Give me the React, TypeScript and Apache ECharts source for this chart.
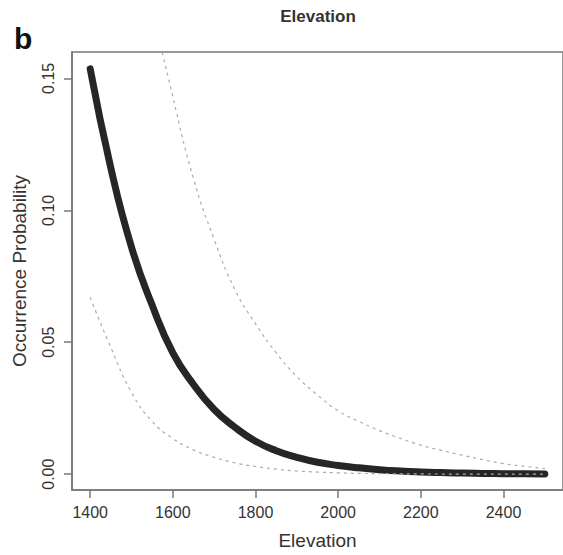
import React, { useEffect, useRef } from "react";
import * as echarts from "echarts";

const ELEVATION = [1400, 1450, 1500, 1550, 1600, 1650, 1700, 1750, 1800, 1850, 1900, 1950, 2000, 2050, 2100, 2150, 2200, 2250, 2300, 2350, 2400, 2450, 2500];
// Fitted occurrence probability (thick curve)
const FITTED = [0.1536, 0.116, 0.086, 0.064, 0.046, 0.034, 0.0245, 0.0178, 0.0125, 0.0089, 0.0064, 0.0045, 0.0033, 0.0024, 0.0017, 0.0012, 0.00085, 0.0006, 0.0004, 0.0003, 0.0002, 0.00015, 0.0001];
// Upper confidence band (dashed)
const UPPER = [0.33, 0.27, 0.22, 0.178, 0.143, 0.112, 0.089, 0.07, 0.057, 0.046, 0.037, 0.03, 0.024, 0.02, 0.0165, 0.0136, 0.011, 0.009, 0.0072, 0.0055, 0.004, 0.003, 0.0021];
// Lower confidence band (dashed)
const LOWER = [0.067, 0.048, 0.031, 0.02, 0.0135, 0.0092, 0.0064, 0.0043, 0.0029, 0.0019, 0.0012, 0.0008, 0.0005, 0.0003, 0.0002, 0.00012, 0.00008, 0.00005, 0.00003, 0.00002, 0.000012, 0.000008, 0.000005];

const X_TICKS = [1400, 1600, 1800, 2000, 2200, 2400];
const Y_TICKS = [0, 0.05, 0.1, 0.15];

const FONT = '"Liberation Sans", Arial, Helvetica, sans-serif';

const pairs = (ys: number[]) => ELEVATION.map((x, i) => [x, ys[i]]);

export default function App() {
  const ref = useRef<HTMLDivElement>(null);
  useEffect(() => {
    const chart = echarts.init(ref.current!, null, { renderer: "svg" });
    const axisColor = "#777777";
    const textColor = "#333333";
    chart.setOption({
      animation: false,
      backgroundColor: "#ffffff",
      textStyle: { fontFamily: FONT },
      grid: {
        left: 72,
        top: 52,
        right: -4,
        bottom: 60,
        show: true,
        borderColor: axisColor,
        borderWidth: 1.5,
        backgroundColor: "transparent",
      },
      xAxis: {
        type: "value",
        min: 1356,
        max: 2544,
        name: "Elevation",
        nameLocation: "middle",
        nameGap: 41,
        nameTextStyle: { fontSize: 19, color: textColor, fontFamily: FONT },
        axisLine: { show: true, onZero: false, lineStyle: { color: axisColor, width: 1.5 } },
        axisTick: { show: true, length: 8, customValues: X_TICKS, lineStyle: { color: axisColor, width: 1.5 } },
        axisLabel: {
          customValues: X_TICKS,
          margin: 14,
          fontSize: 16,
          color: textColor,
          fontFamily: FONT,
          formatter: (v: number) => String(v),
        },
        splitLine: { show: false },
      },
      yAxis: {
        type: "value",
        min: -0.006,
        max: 0.16,
        name: "Occurrence Probability",
        nameLocation: "middle",
        nameGap: 43,
        nameRotate: 90,
        nameTextStyle: { fontSize: 19, color: textColor, fontFamily: FONT },
        axisLine: { show: true, onZero: false, lineStyle: { color: axisColor, width: 1.5 } },
        axisTick: { show: true, length: 8, customValues: Y_TICKS, lineStyle: { color: axisColor, width: 1.5 } },
        axisLabel: {
          customValues: Y_TICKS,
          rotate: 90,
          margin: 16,
          fontSize: 16,
          color: textColor,
          fontFamily: FONT,
          formatter: (v: number) => v.toFixed(2),
        },
        splitLine: { show: false },
      },
      graphic: [
        {
          type: "text",
          x: 318,
          y: 16,
          style: { text: "Elevation", font: `bold 17px ${FONT}`, fill: textColor, align: "center", verticalAlign: "middle" },
        },
        {
          type: "text",
          x: 14,
          y: 38,
          style: { text: "b", font: `bold 30px ${FONT}`, fill: "#111111", align: "left", verticalAlign: "middle" },
        },
      ],
      series: [
        {
          type: "line",
          data: pairs(FITTED),
          showSymbol: false,
          smooth: 0.5,
          lineStyle: { color: "#262626", width: 7, cap: "round", join: "round" },
          clip: true,
        },
        {
          type: "line",
          data: pairs(UPPER),
          showSymbol: false,
          smooth: 0.5,
          lineStyle: { color: "#aaaaaa", width: 1.2, type: [3, 4] },
          clip: true,
        },
        {
          type: "line",
          data: pairs(LOWER),
          showSymbol: false,
          smooth: 0.5,
          lineStyle: { color: "#aaaaaa", width: 1.2, type: [3, 4] },
          clip: true,
        },
      ],
    });
    return () => chart.dispose();
  }, []);
  return (
    <div
      ref={ref}
      style={{ position: "absolute", left: 0, top: 0, width: 563, height: 555, background: "#ffffff" }}
    />
  );
}
